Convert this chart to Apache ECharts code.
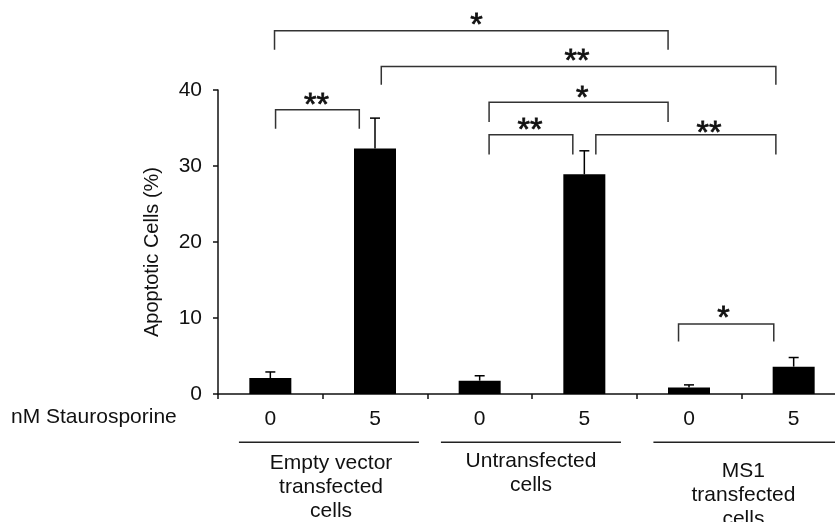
<!DOCTYPE html>
<html>
<head>
<meta charset="utf-8">
<script src="https://cdn.jsdelivr.net/npm/echarts@6/dist/echarts.min.js"></script>
<style>
  html, body { margin: 0; padding: 0; background: #fff; }
  #main { width: 835px; height: 522px; }
</style>
</head>
<body>
<div id="main"></div>
<script>
// dose labels and bar values (%)
const doses = ['0', '5', '0', '5', '0', '5'];
const means = [2.1, 32.3, 1.75, 28.9, 0.85, 3.6];
const errors = [0.8, 4.0, 0.65, 3.1, 0.35, 1.2];

// groups under the axis: line span (category units 0..6), label x, label top (value units)
const groupNames = ['Empty vector\ntransfected\ncells', 'Untransfected\ncells', 'MS1\ntransfected\ncells'];
const groupLineFrom = [0.2, 2.13, 4.16];
const groupLineTo = [1.92, 3.85, 6.0];
const groupLineY = -6.36;
const groupTextX = [1.08, 2.99, 5.02];
const groupTextY = [-7.5, -7.25, -8.6];

// significance brackets: [from, to, top, foot, mark, markX, markY]
const brackets = [
  [0.55, 1.35, 37.4, 34.9, '**', 0.94, 38.9],
  [0.54, 4.30, 47.8, 45.3, '*', 2.47, 49.5],
  [1.56, 5.33, 43.1, 40.7, '**', 3.43, 44.7],
  [2.59, 4.30, 38.4, 35.8, '*', 3.48, 39.9],
  [2.59, 3.39, 34.1, 31.5, '**', 2.98, 35.6],
  [3.61, 5.33, 34.1, 31.5, '**', 4.69, 35.3],
  [4.40, 5.31, 9.2, 6.9, '*', 4.83, 10.95]
];

const FONT = '"Liberation Sans", Arial, Helvetica, sans-serif';
const chart = echarts.init(document.getElementById('main'));

const option = {
  animation: false,
  backgroundColor: '#fff',
  // plot runs past the right edge, as in the original figure
  grid: { left: 218, top: 90, width: 628, height: 304, outerBoundsMode: 'none', containLabel: false },
  xAxis: [
    {
      type: 'category',
      data: doses,
      axisLine: { lineStyle: { color: '#111', width: 1.5 } },
      axisTick: { show: true, length: 5, lineStyle: { color: '#111', width: 1.5 } },
      axisLabel: { color: '#111', fontSize: 21, fontFamily: FONT, margin: 15 }
    },
    { type: 'value', min: 0, max: 6, show: false }
  ],
  yAxis: {
    type: 'value',
    min: 0,
    max: 40,
    interval: 10,
    axisLine: { show: true, lineStyle: { color: '#111', width: 1.5 } },
    axisTick: { show: true, length: 5, lineStyle: { color: '#111', width: 1.5 } },
    axisLabel: { color: '#111', fontSize: 21, fontFamily: FONT, margin: 16 },
    splitLine: { show: false }
  },
  graphic: [
    {
      type: 'text',
      left: 11,
      top: 407,
      style: { text: 'nM Staurosporine', fill: '#111', fontSize: 21, fontFamily: FONT }
    },
    {
      type: 'text',
      x: 152,
      y: 252,
      rotation: Math.PI / 2,
      style: {
        text: 'Apoptotic Cells (%)', fill: '#111', fontSize: 20, fontFamily: FONT,
        align: 'center', verticalAlign: 'middle'
      }
    }
  ],
  series: [
    {
      type: 'bar',
      data: means,
      barWidth: 42,
      itemStyle: { color: '#000' }
    },
    {
      // error bars (upper only)
      type: 'custom',
      clip: false,
      data: means.map((m, i) => [i, m, m + errors[i]]),
      renderItem: function (params, api) {
        const base = api.coord([api.value(0), api.value(1)]);
        const top = api.coord([api.value(0), api.value(2)]);
        const style = { stroke: '#000', lineWidth: 1.5 };
        return {
          type: 'group',
          children: [
            { type: 'line', shape: { x1: base[0], y1: base[1], x2: top[0], y2: top[1] }, style: style },
            { type: 'line', shape: { x1: top[0] - 5, y1: top[1], x2: top[0] + 5, y2: top[1] }, style: style }
          ]
        };
      },
      z: 3
    },
    {
      // significance brackets
      type: 'custom',
      xAxisIndex: 1,
      clip: false,
      data: brackets.map(b => [b[0], b[2]]),
      renderItem: function (params, api) {
        const b = brackets[params.dataIndex];
        const p1 = api.coord([b[0], b[3]]);
        const p2 = api.coord([b[0], b[2]]);
        const p3 = api.coord([b[1], b[2]]);
        const p4 = api.coord([b[1], b[3]]);
        const m = api.coord([b[5], b[6]]);
        return {
          type: 'group',
          children: [
            {
              type: 'polyline',
              shape: { points: [p1, p2, p3, p4] },
              style: { stroke: '#333', lineWidth: 1.5, fill: null }
            },
            {
              type: 'text',
              x: m[0],
              y: m[1] + 8,
              style: {
                text: b[4], fill: '#111', fontSize: 32, fontFamily: FONT,
                align: 'center', verticalAlign: 'middle',
                stroke: '#111', lineWidth: 0.8
              }
            }
          ]
        };
      }
    },
    {
      // group lines and labels under the axis
      type: 'custom',
      xAxisIndex: 1,
      clip: false,
      data: groupNames.map((g, i) => [groupLineFrom[i], groupLineY]),
      renderItem: function (params, api) {
        const i = params.dataIndex;
        const a = api.coord([groupLineFrom[i], groupLineY]);
        const b = api.coord([groupLineTo[i], groupLineY]);
        const t = api.coord([groupTextX[i], groupTextY[i]]);
        return {
          type: 'group',
          children: [
            {
              type: 'line',
              shape: { x1: a[0], y1: a[1], x2: b[0], y2: b[1] },
              style: { stroke: '#222', lineWidth: 1.5 }
            },
            {
              type: 'text',
              x: t[0],
              y: t[1],
              style: {
                text: groupNames[i], fill: '#111', fontSize: 21, fontFamily: FONT,
                align: 'center', verticalAlign: 'top', lineHeight: 24
              }
            }
          ]
        };
      }
    }
  ]
};

chart.setOption(option);
</script>
</body>
</html>
